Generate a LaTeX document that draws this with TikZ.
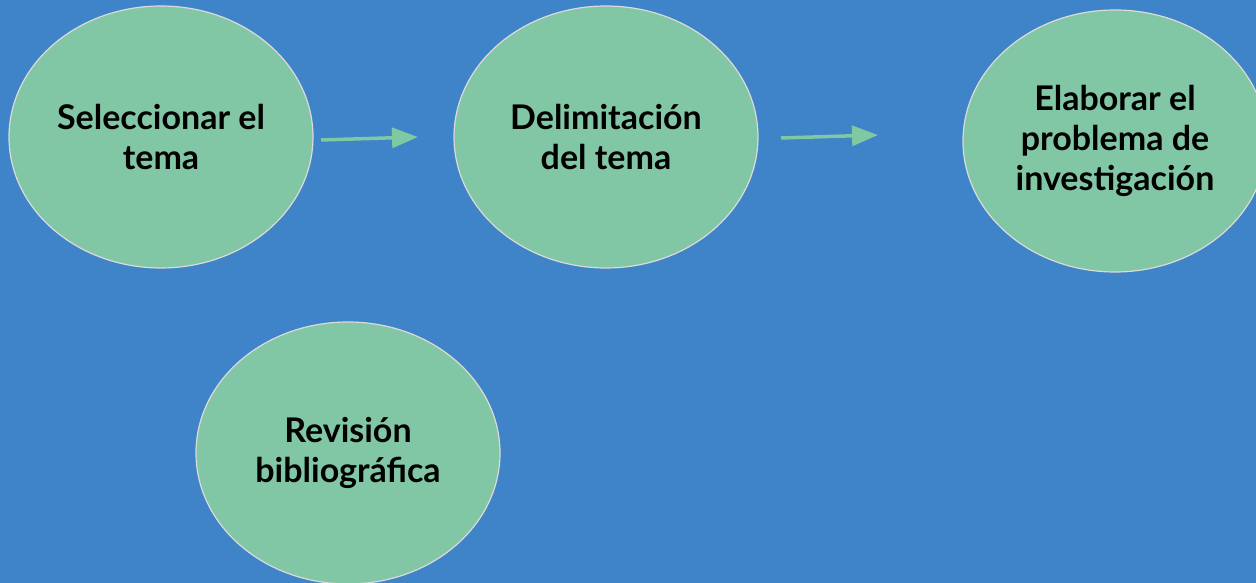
\documentclass[tikz,border=0pt]{standalone}
\usepackage{fontspec}
\setmainfont{Lato}
\usetikzlibrary{shapes.geometric,arrows.meta}
\definecolor{bg}{HTML}{3F83C8}
\definecolor{fillg}{HTML}{82C7A5}
\definecolor{edgeg}{HTML}{DADADA}
\definecolor{arrg}{HTML}{7FC9A2}
\tikzset{
  bubble/.style={ellipse, draw=edgeg, line width=1.2pt, fill=fillg, minimum width=304pt, minimum height=262pt, inner sep=0pt, align=center, font=\fontsize{34}{40}\selectfont\bfseries, text=black},
  flow/.style={draw=arrg, line width=3.5pt, -{Triangle[length=26pt,width=20pt]}}
}
\begin{document}
\begin{tikzpicture}[x=1pt,y=1pt]
\fill[bg] (0,0) rectangle (1256,583);
\useasboundingbox (0,0) rectangle (1256,583);
\node[bubble] (a) at (161,446) {Seleccionar el\\tema};
\node[bubble] (b) at (606,446) {Delimitación\\del tema};
\node[bubble] (c) at (1115,442) {Elaborar el\\problema de\\inves\kern0pt tigación};
\node[bubble] (d) at (348,130) {Revisión\\bibliográfica};
\coordinate (a1) at (321,443);
\coordinate (a2) at (418,446);
\coordinate (b1) at (781,445);
\coordinate (b2) at (878,448);
\draw[flow] (a1) -- (a2);
\draw[flow] (b1) -- (b2);
\end{tikzpicture}
\end{document}
